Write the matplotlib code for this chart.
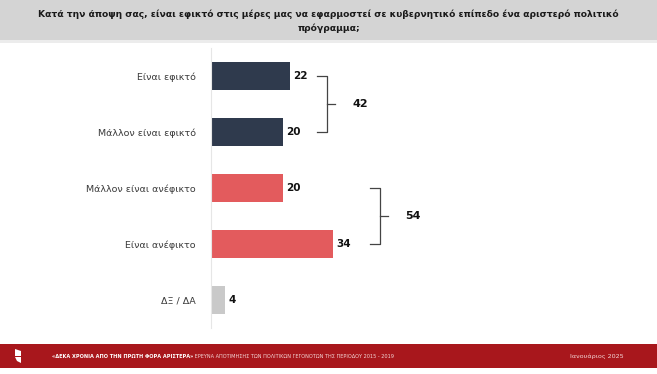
import matplotlib.pyplot as plt
from matplotlib.patches import Rectangle, Polygon

# chart data
categories = ['Είναι εφικτό', 'Μάλλον είναι εφικτό', 'Μάλλον είναι ανέφικτο',
              'Είναι ανέφικτο', 'ΔΞ / ΔΑ']
values = [22, 20, 20, 34, 4]
colors = ['#2f3a4d', '#2f3a4d', '#e35b5d', '#e35b5d', '#c9c9c9']
groups = [(0, 1, 42), (2, 3, 54)]  # first bar, last bar, total

title = ('Κατά την άποψη σας, είναι εφικτό στις μέρες μας να εφαρμοστεί σε κυβερνητικό '
         'επίπεδο ένα αριστερό πολιτικό\nπρόγραμμα;')
footer_bold = '«ΔΕΚΑ ΧΡΟΝΙΑ ΑΠΟ ΤΗΝ ΠΡΩΤΗ ΦΟΡΑ ΑΡΙΣΤΕΡΑ»'
footer_rest = ' ΕΡΕΥΝΑ ΑΠΟΤΙΜΗΣΗΣ ΤΩΝ ΠΟΛΙΤΙΚΩΝ ΓΕΓΟΝΟΤΩΝ ΤΗΣ ΠΕΡΙΟΔΟΥ 2015 - 2019'
footer_date = 'Ιανουάριος 2025'

plt.rcParams['font.family'] = ['DejaVu Sans']

W, H = 657, 374
fig = plt.figure(figsize=(W / 100, H / 100), dpi=100)
fig.patch.set_facecolor('white')

def fx(px):
    return px / W

def fy(py):
    return 1 - py / H

# header band
fig.patches.append(Rectangle((0, fy(40)), 1, 40 / H, transform=fig.transFigure,
                             facecolor='#d4d4d4', edgecolor='none', zorder=0))
fig.patches.append(Rectangle((0, fy(43)), 1, 3 / H, transform=fig.transFigure,
                             facecolor='#ececec', edgecolor='none', zorder=0))
fig.text(0.5, fy(21), title, ha='center', va='center', fontsize=6.6,
         fontweight='bold', color='#1a1a1a', linespacing=1.55)

# footer band
fig.patches.append(Rectangle((0, fy(368)), 1, 24 / H, transform=fig.transFigure,
                             facecolor='#a8171c', edgecolor='none', zorder=0))
fig.patches.append(Polygon([(fx(15), fy(349)), (fx(21), fy(351)), (fx(21), fy(356)),
                            (fx(15), fy(356))], closed=True, transform=fig.transFigure,
                           facecolor='white', edgecolor='none'))
fig.patches.append(Polygon([(fx(15), fy(357)), (fx(21), fy(357)), (fx(21), fy(363)),
                            (fx(17), fy(361))], closed=True, transform=fig.transFigure,
                           facecolor='white', edgecolor='none'))
t = fig.text(fx(52), fy(356), footer_bold, ha='left', va='center', fontsize=3.6,
             fontweight='bold', color='white')
fig.canvas.draw()
bb = t.get_window_extent()
fig.text(bb.x1 / W, fy(356), footer_rest, ha='left', va='center', fontsize=3.6,
         color='#f3d6d6')
fig.text(fx(624), fy(356), footer_date, ha='right', va='center', fontsize=4.6,
         color='#f3d6d6')

# main axes: x=0 at 211px, 3.6 px per unit
left, right = 211, 640
top, bottom = 48, 328
ax = fig.add_axes([fx(left), fy(bottom), (right - left) / W, (bottom - top) / H])
ax.set_xlim(0, (right - left) / 3.6)
ax.set_ylim(4.5, -0.5)

ypos = list(range(len(categories)))
ax.barh(ypos, values, height=0.49, color=colors, zorder=2)
for y, v in zip(ypos, values):
    ax.text(v + 0.9, y, str(v), ha='left', va='center', fontsize=7.5,
            fontweight='bold', color='#111111')

ax.set_yticks(ypos)
ax.set_yticklabels(categories, fontsize=6.8, color='#3a3a3a')
ax.tick_params(axis='y', length=0, pad=11)
ax.set_xticks([])
for s in ['top', 'right', 'bottom']:
    ax.spines[s].set_visible(False)
ax.spines['left'].set_color('#e6e6e6')
ax.spines['left'].set_linewidth(0.8)
ax.patch.set_alpha(0)

# brackets with group totals
bracket_x = [32.2, 46.9]
for (a, b, total), xe in zip(groups, bracket_x):
    ax.plot([xe - 2.7, xe, xe, xe - 2.7], [a, a, b, b], color='#444444', lw=0.9)
    mid = (a + b) / 2
    ax.plot([xe, xe + 2.3], [mid, mid], color='#444444', lw=0.9)
    ax.text(xe + 9.3, mid, str(total), ha='center', va='center', fontsize=8,
            fontweight='bold', color='#111111')

fig.savefig('out.png', dpi=100)
